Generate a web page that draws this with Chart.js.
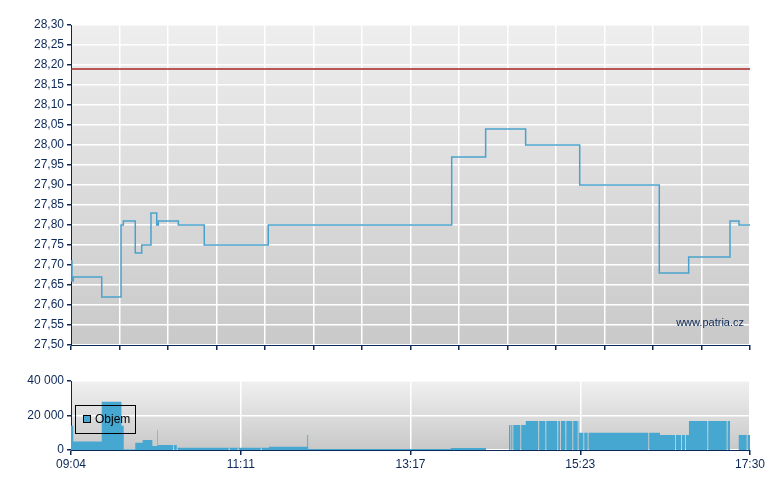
<!DOCTYPE html>
<html>
<head>
<meta charset="utf-8">
<script src="https://cdn.jsdelivr.net/npm/chart.js@4/dist/chart.umd.min.js"></script>
<style>
  body { margin: 0; background: #fff; width: 780px; height: 490px; overflow: hidden; }
  #price { position: absolute; left: 0; top: 0; }
  #vol { position: absolute; left: 0; top: 360px; }
</style>
</head>
<body>
<canvas id="price" width="780" height="360"></canvas>
<canvas id="vol" width="780" height="130"></canvas>
<script>
// minutes after 09:04 (session ends 17:30 = 506)
const sessionEnd = 506;

// price steps: each value holds until the next time
const priceTimes  = [0, 0.7, 1.7, 22.9, 37.3, 39.0, 47.9, 52.7, 59.6, 63.9, 65.1, 80.0, 99.3, 147.0, 283.7, 309.0, 338.8, 379.1, 438.4, 460.3, 491.1, 497.8, 506];
const priceValues = [27.71, 27.66, 27.67, 27.62, 27.80, 27.81, 27.73, 27.75, 27.83, 27.80, 27.81, 27.80, 27.75, 27.80, 27.97, 28.04, 28.00, 27.90, 27.68, 27.72, 27.81, 27.80, 27.80];
const refPrice = 28.19;

// volume steps
const volTimes  = [0, 1.7, 22.9, 37.6, 39.3, 47.9, 53.4, 60.6, 64.4, 64.8, 79.4, 147.6, 176.1, 176.7, 283.0, 309.3, 326.4, 338.9, 378.6, 438.9, 460.5, 491.1, 497.6, 506];
const volValues = [14000, 5000, 28000, 14000, 500, 4200, 5800, 2300, 11600, 2900, 1300, 1900, 8700, 600, 1200, 0, 14500, 16800, 10000, 8700, 16800, 0, 8700, 8700];
// thin white gaps between volume bars
const volGaps = [76.1, 78.8, 117.5, 124.2, 141.4, 327.4, 328.9, 334.8, 348.2, 353.5, 362.4, 364.4, 368.4, 373.6, 377.6, 381.8, 385.0, 430.2, 450.1, 454.6, 457.6, 474.2, 488.6, 503.5];

const priceTicks = [27.50, 27.55, 27.60, 27.65, 27.70, 27.75, 27.80, 27.85, 27.90, 27.95, 28.00, 28.05, 28.10, 28.15, 28.20, 28.25, 28.30];
const volTicks = [0, 20000, 40000];
const volTickLabels = ['0', '20 000', '40 000'];
const timeLabels = ['09:04', '11:11', '13:17', '15:23', '17:30'];

const navy = '#0c2857';
Chart.defaults.font.family = '"Liberation Sans", Arial, sans-serif';
Chart.defaults.font.size = 12;
Chart.defaults.color = navy;

function volAt(t) {
  let v = 0;
  for (let i = 0; i < volTimes.length; i++) if (volTimes[i] <= t) v = volValues[i];
  return v;
}
const volPoints = volTimes.map((t, i) => ({ x: t, y: volValues[i] }));
volGaps.forEach(g => {
  volPoints.push({ x: g, y: 0 });
  volPoints.push({ x: g + 0.7, y: volAt(g + 0.7) });
});
volPoints.sort((a, b) => a.x - b.x);

const plotBg = (c0, c1) => ({
  id: 'plotBg',
  beforeDraw(chart) {
    const { ctx, chartArea: a } = chart;
    const g = ctx.createLinearGradient(0, a.top, 0, a.bottom);
    g.addColorStop(0, c0);
    g.addColorStop(1, c1);
    ctx.save();
    ctx.fillStyle = g;
    ctx.fillRect(a.left, a.top, a.width, a.height);
    ctx.restore();
  }
});

const watermark = {
  id: 'watermark',
  afterDatasetsDraw(chart) {
    const { ctx, chartArea: a } = chart;
    ctx.save();
    ctx.font = '11px "Liberation Sans", Arial, sans-serif';
    ctx.fillStyle = navy;
    ctx.textAlign = 'right';
    ctx.textBaseline = 'middle';
    ctx.fillText('www.patria.cz', a.right - 6, a.bottom - 22);
    ctx.restore();
  }
};

const volLegend = {
  id: 'volLegend',
  afterDatasetsDraw(chart) {
    const { ctx, chartArea: a } = chart;
    const x = a.left + 4, y = a.top + 24;
    ctx.save();
    ctx.strokeStyle = '#000';
    ctx.lineWidth = 1;
    ctx.strokeRect(x + 0.5, y + 0.5, 60, 28);
    ctx.fillStyle = '#46a7d1';
    ctx.fillRect(x + 8, y + 10, 7, 7);
    ctx.strokeRect(x + 8.5, y + 10.5, 7, 7);
    ctx.fillStyle = '#000';
    ctx.font = '12px "Liberation Sans", Arial, sans-serif';
    ctx.textBaseline = 'middle';
    ctx.fillText('Objem', x + 20, y + 15);
    ctx.restore();
  }
};

const gridMinutes = [];
for (let i = 0; i <= 14; i++) gridMinutes.push(sessionEnd * i / 14);
const labelMinutes = [0, 1, 2, 3, 4].map(i => sessionEnd * i / 4);

new Chart(document.getElementById('price'), {
  type: 'line',
  data: {
    datasets: [{
      data: priceTimes.map((t, i) => ({ x: t, y: priceValues[i] })),
      borderColor: '#4aa2cc',
      borderWidth: 1.5,
      stepped: 'before',
      pointRadius: 0,
      fill: false
    }, {
      data: [{ x: 0, y: refPrice }, { x: sessionEnd, y: refPrice }],
      borderColor: '#a82424',
      borderWidth: 1.3,
      pointRadius: 0,
      fill: false
    }]
  },
  options: {
    responsive: false,
    animation: false,
    layout: { padding: { top: 25, right: 30, left: 0, bottom: 0 } },
    plugins: { legend: { display: false }, tooltip: { enabled: false } },
    scales: {
      x: {
        type: 'linear', min: 0, max: sessionEnd,
        afterBuildTicks: s => { s.ticks = gridMinutes.map(v => ({ value: v })); },
        afterFit: s => { s.height = 15; },
        ticks: { callback: () => '' },
        grid: { color: '#ffffff', lineWidth: 1.5, tickColor: navy, tickLength: 5 },
        border: { color: navy, width: 1 }
      },
      y: {
        min: 27.5, max: 28.3,
        afterBuildTicks: s => { s.ticks = priceTicks.map(v => ({ value: v })); },
        afterFit: s => { s.width = 71; },
        ticks: { padding: 3, callback: v => v.toFixed(2).replace('.', ',') },
        grid: { color: '#ffffff', lineWidth: 1.5, tickColor: navy, tickLength: 4 },
        border: { color: navy, width: 1 }
      }
    }
  },
  plugins: [plotBg('#eeeeee', '#c9c9c9'), watermark]
});

new Chart(document.getElementById('vol'), {
  type: 'line',
  data: {
    datasets: [{
      label: 'Objem',
      data: volPoints,
      borderWidth: 0,
      borderColor: 'rgba(0,0,0,0)',
      backgroundColor: '#46a7d1',
      stepped: 'before',
      pointRadius: 0,
      fill: 'origin'
    }]
  },
  options: {
    responsive: false,
    animation: false,
    layout: { padding: { top: 21, right: 30, left: 0, bottom: 0 } },
    plugins: { legend: { display: false }, tooltip: { enabled: false } },
    scales: {
      x: {
        type: 'linear', min: 0, max: sessionEnd,
        afterBuildTicks: s => { s.ticks = labelMinutes.map(v => ({ value: v })); },
        afterFit: s => { s.height = 40; },
        ticks: { maxRotation: 0, autoSkip: false, padding: 2, callback: (v, i) => timeLabels[i] },
        grid: { color: '#ffffff', lineWidth: 1.5, tickColor: navy, tickLength: 5 },
        border: { color: navy, width: 1 }
      },
      y: {
        min: 0, max: 40000,
        afterBuildTicks: s => { s.ticks = volTicks.map(v => ({ value: v })); },
        afterFit: s => { s.width = 71; },
        ticks: { padding: 3, callback: (v, i) => volTickLabels[i] },
        grid: { color: '#ffffff', lineWidth: 1.5, tickColor: navy, tickLength: 4 },
        border: { color: navy, width: 1 }
      }
    }
  },
  plugins: [plotBg('#f0f0f0', '#c8c8c8'), volLegend]
});
</script>
</body>
</html>
